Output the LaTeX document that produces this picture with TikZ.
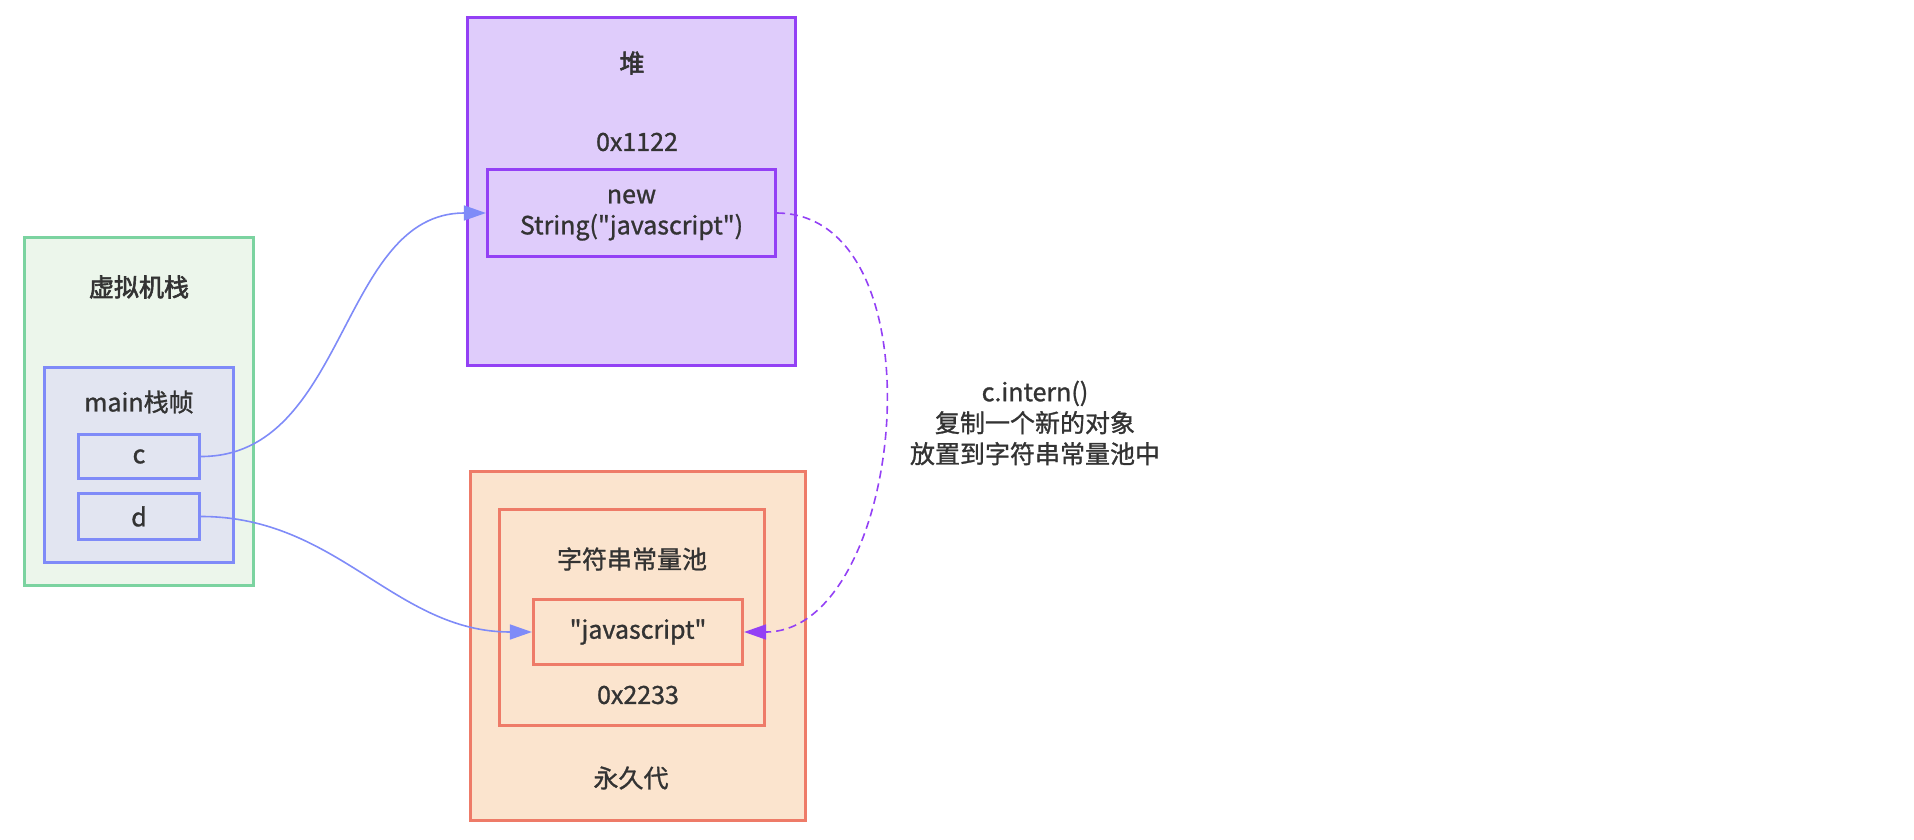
\documentclass[tikz,border=0pt]{standalone}
\usepackage{fontspec}
\newfontfamily\basef{Noto Sans CJK SC}[RawFeature={embolden=1.1}]
\newfontfamily\heavyf{Noto Sans CJK SC}[RawFeature={embolden=2.4}]
\usetikzlibrary{arrows.meta}
\definecolor{txt}{HTML}{333333}
\definecolor{gB}{HTML}{7BD3A0}\definecolor{gF}{HTML}{ECF6EB}
\definecolor{bB}{HTML}{7F8BF8}\definecolor{bF}{HTML}{E2E5F1}
\definecolor{pB}{HTML}{9340F5}\definecolor{pF}{HTML}{DFCCFB}
\definecolor{oB}{HTML}{EE7B68}\definecolor{oF}{HTML}{FBE4CE}
\tikzset{
  box/.style={draw, line width=3.2pt, rectangle, inner sep=0pt},
  lbl/.style={text=txt, font=\basef\fontsize{25}{31}\selectfont, align=center, inner sep=0pt},
  blbl/.style={lbl, font=\heavyf\fontsize{25}{31}\selectfont},
  conn/.style={draw=bB, line width=1.6pt, -{Triangle[length=22pt,width=15pt]}},
  dconn/.style={draw=pB, line width=1.6pt, dash pattern=on 8pt off 5pt, -{Triangle[length=22pt,width=15pt]}},
}
\begin{document}
\begin{tikzpicture}[x=1pt,y=-1pt]
\useasboundingbox (0,0) rectangle (1914,840);
% stack
\node[box, draw=gB, fill=gF, minimum width=229pt, minimum height=348pt] (stack) at (139,411.5) {};
\node[blbl] (stacklbl) at (139,287) {虚拟机栈};
\node[box, draw=bB, fill=bF, minimum width=189pt, minimum height=195pt] (frame) at (139,465) {};
\node[lbl] (framelbl) at (139,402) {main栈帧};
\node[box, draw=bB, fill=bF, minimum width=121pt, minimum height=44pt] (c) at (139,456.5) {};
\node[lbl] (clbl) at (139,456.5) {c};
\node[box, draw=bB, fill=bF, minimum width=121pt, minimum height=46pt] (d) at (139,516.5) {};
\node[lbl] (dlbl) at (139,516.5) {d};
% heap
\node[box, draw=pB, fill=pF, minimum width=328pt, minimum height=348pt] (heap) at (631.5,191.5) {};
\node[blbl] (heaplbl) at (632,63) {堆};
\node[lbl] (addr1) at (637,142) {0x1122};
\node[box, draw=pB, fill=pF, minimum width=288pt, minimum height=87pt] (obj) at (631.5,213) {};
\node[lbl] (objlbl) at (631.5,215) {new\\String("javascript")};
% permanent generation
\node[box, draw=oB, fill=oF, minimum width=335pt, minimum height=349pt] (perm) at (638,646) {};
\node[lbl] (permlbl) at (631,778) {永久代};
\node[box, draw=oB, fill=oF, minimum width=265pt, minimum height=216pt] (pool) at (632,617.5) {};
\node[lbl] (poollbl) at (632,559) {字符串常量池};
\node[box, draw=oB, fill=oF, minimum width=209pt, minimum height=65pt] (str) at (638,632) {};
\node[lbl] (strlbl) at (638,632) {"javascript"};
\node[lbl] (addr2) at (638,695) {0x2233};
% annotation
\node[lbl] (note) at (1035,423) {c.intern()\\复制一个新的对象\\放置到字符串常量池中};
% connectors
\draw[conn] (c.east) to[out=0,in=180] (obj.west);
\draw[conn] (d.east) to[out=0,in=180] (str.west);
\draw[dconn] (obj.east) .. controls (945,215) and (905,632) .. (str.east);
\end{tikzpicture}
\end{document}
